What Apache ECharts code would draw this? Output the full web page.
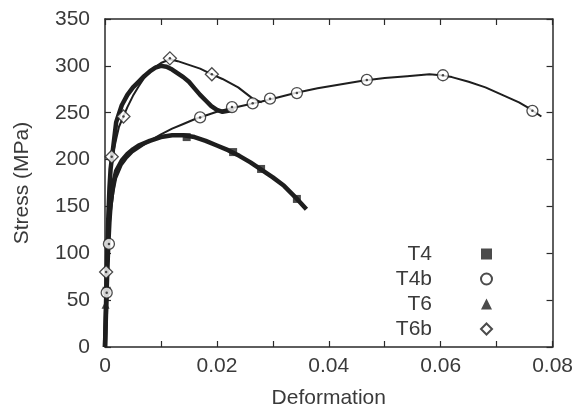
<!DOCTYPE html>
<html>
<head>
<meta charset="utf-8">
<script src="https://cdn.jsdelivr.net/npm/echarts/dist/echarts.min.js"></script>
<style>
html,body{margin:0;padding:0;background:#fff;}
#c{width:576px;height:414px;}
</style>
</head>
<body>
<div id="c"></div>
<script>
// ---- data ----
const seriesNames = ['T4', 'T4b', 'T6', 'T6b'];
const xTicks = [0, 0.02, 0.04, 0.06, 0.08];
const yTicks = [0, 50, 100, 150, 200, 250, 300, 350];

const t4Curve = [[0,0],[0.0002,40],[0.0004,80],[0.0006,110],[0.0008,135],[0.001,152],[0.0015,175],[0.002,188],[0.003,199],[0.004,206],[0.005,211],[0.006,215],[0.008,220],[0.010,224],[0.012,226],[0.014,226],[0.016,224],[0.018,220],[0.020,215],[0.022,210],[0.024,204],[0.026,197],[0.028,189],[0.030,181],[0.032,172],[0.034,160],[0.036,147]];
const t4Marks = [[0.0003,60],[0.0146,224],[0.0229,208],[0.0279,190],[0.0343,158]];

const t4bCurve = [[0,0],[0.0002,35],[0.0004,70],[0.0006,100],[0.0008,125],[0.001,142],[0.0015,165],[0.002,180],[0.003,194],[0.004,202],[0.005,208],[0.006,212],[0.008,220],[0.010,227],[0.012,233],[0.014,238],[0.016,243],[0.018,247],[0.020,251],[0.022,254],[0.025,258],[0.028,262],[0.030,265],[0.034,271],[0.038,276],[0.042,280],[0.046,284],[0.050,287],[0.054,289],[0.058,291],[0.060,290],[0.062,288],[0.065,283],[0.068,277],[0.071,269],[0.074,261],[0.076,254],[0.078,246]];
const t4bMarks = [[0.0003,58],[0.0007,110],[0.017,245],[0.0227,256],[0.0264,260],[0.0295,265],[0.0343,271],[0.0468,285],[0.0604,290],[0.0764,252]];

const t6Curve = [[0,0],[0.0002,50],[0.0004,100],[0.0006,140],[0.0008,170],[0.001,190],[0.0015,215],[0.002,240],[0.003,258],[0.004,269],[0.005,277],[0.006,283],[0.007,289],[0.008,294],[0.009,298],[0.010,300],[0.011,299],[0.012,296],[0.013,292],[0.014,288],[0.015,283],[0.016,276],[0.017,269],[0.018,263],[0.019,257],[0.020,253],[0.021,251],[0.022,252],[0.023,254]];
const t6Marks = [[0.0001,45]];

const t6bCurve = [[0,0],[0.0002,50],[0.0004,100],[0.0006,140],[0.0008,170],[0.0012,200],[0.002,222],[0.0025,235],[0.0033,246],[0.004,256],[0.005,268],[0.006,278],[0.007,287],[0.008,294],[0.009,299],[0.010,303],[0.0116,307],[0.013,305],[0.015,301],[0.017,297],[0.0191,291],[0.021,286],[0.0238,277],[0.0264,265],[0.028,261]];
const t6bMarks = [[0.0002,80],[0.0012,203],[0.0033,246],[0.0116,308],[0.0191,291]];

// ---- chart ----
const ink = '#1e1e1e';
const txt = '#3a3a3a';
const font = 'Liberation Sans, Arial, sans-serif';

function curve(name, data, width) {
  return {
    name: name + ' curve', type: 'line', data: data, showSymbol: false, silent: true,
    lineStyle: { color: ink, width: width }, z: 2
  };
}
function marks(name, data, symbol, size, filled) {
  return {
    name: name, type: 'scatter', data: data, symbol: symbol, symbolSize: size, z: 5,
    itemStyle: filled ? { color: ink } : { color: '#fff', borderColor: ink, borderWidth: 1.3 }
  };
}
function dots(name, data) {
  return {
    name: name + ' dot', type: 'scatter', data: data, symbol: 'circle', symbolSize: 2.5, z: 6, silent: true,
    itemStyle: { color: ink }
  };
}

const axisCommon = {
  axisLine: { show: true, onZero: false, lineStyle: { color: '#2a2a2a', width: 1.5 } },
  axisTick: { show: true, inside: true, length: 6, lineStyle: { color: '#2a2a2a', width: 1.2 } },
  splitLine: { show: false }
};

const chart = echarts.init(document.getElementById('c'), null, { renderer: 'canvas' });
chart.setOption({
  backgroundColor: '#fff',
  animation: false,
  grid: { left: 105, right: 23, top: 19, bottom: 66 },
  xAxis: [
    Object.assign({
      type: 'value', min: xTicks[0], max: xTicks[xTicks.length - 1], interval: xTicks[1] - xTicks[0],
      name: 'Deformation', nameLocation: 'middle', nameGap: 41,
      nameTextStyle: { fontSize: 21, color: txt, fontFamily: font },
      axisLabel: { fontSize: 21, color: txt, fontFamily: font, margin: 9,
        formatter: v => (Math.round(v * 100) / 100).toString() },
      minorTick: { show: true, splitNumber: 2, length: 6, lineStyle: { color: '#2a2a2a', width: 1.2 } }
    }, axisCommon),
    Object.assign({
      type: 'value', position: 'top', min: xTicks[0], max: xTicks[xTicks.length - 1], interval: xTicks[1] - xTicks[0],
      axisLabel: { show: false },
      minorTick: { show: true, splitNumber: 2, length: 6, lineStyle: { color: '#2a2a2a', width: 1.2 } }
    }, axisCommon)
  ],
  yAxis: [
    Object.assign({
      type: 'value', min: yTicks[0], max: yTicks[yTicks.length - 1], interval: yTicks[1] - yTicks[0],
      name: 'Stress (MPa)', nameLocation: 'middle', nameGap: 72,
      nameTextStyle: { fontSize: 21, color: txt, fontFamily: font },
      axisLabel: { fontSize: 21, color: txt, fontFamily: font, margin: 15 }
    }, axisCommon),
    Object.assign({
      type: 'value', position: 'right', min: yTicks[0], max: yTicks[yTicks.length - 1], interval: yTicks[1] - yTicks[0],
      axisLabel: { show: false }
    }, axisCommon)
  ],
  legend: {
    data: seriesNames, orient: 'vertical', align: 'right',
    right: 78, top: 238, itemWidth: 11, itemHeight: 11, itemGap: 3,
    textStyle: { fontSize: 21, color: txt, fontFamily: font, lineHeight: 22, padding: [0, 44, 0, 0] }
  },
  series: [
    curve('T4', t4Curve, 4.5),
    curve('T4b', t4bCurve, 2),
    curve('T6', t6Curve, 4.5),
    curve('T6b', t6bCurve, 2),
    marks('T4', t4Marks, 'rect', 8, true),
    marks('T4b', t4bMarks, 'circle', 11, false),
    marks('T6', t6Marks, 'triangle', 8, true),
    marks('T6b', t6bMarks, 'diamond', 13, false),
    dots('T4b', t4bMarks),
    dots('T6b', t6bMarks)
  ]
});
</script>
</body>
</html>
